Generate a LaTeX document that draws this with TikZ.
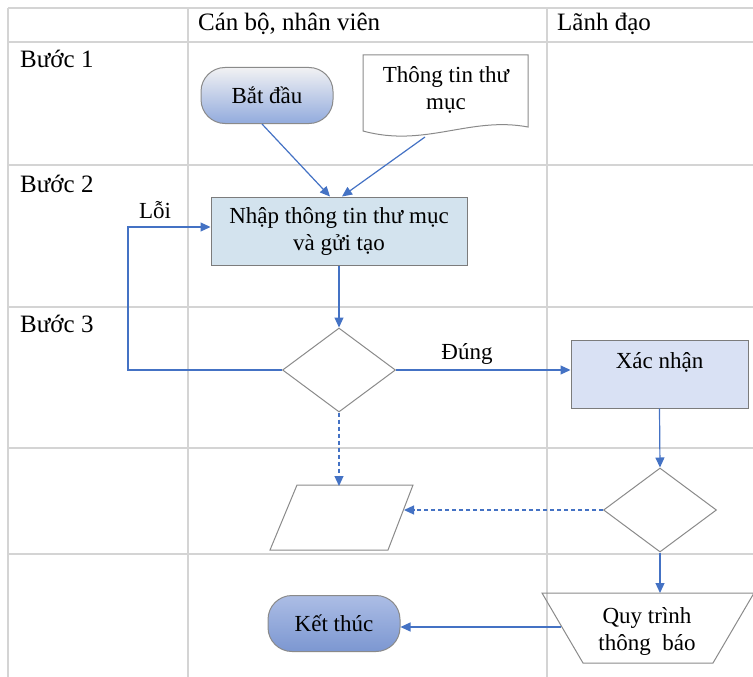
\documentclass[tikz,border=0pt]{standalone}
\usepackage{fontspec}
\setmainfont{Liberation Serif}
\usetikzlibrary{shapes.geometric,arrows.meta}
\definecolor{gridc}{HTML}{D4D4D4}
\definecolor{arr}{HTML}{4472C4}
\definecolor{shp}{HTML}{8A8A8A}
\definecolor{boxa}{HTML}{D3E3EE}
\definecolor{boxb}{HTML}{D9E1F4}
\begin{document}
\begin{tikzpicture}[x=1pt,y=-1pt,
  font=\fontsize{23}{27}\selectfont,
  gridline/.style={draw=gridc, line width=1.3pt},
  conn/.style={draw=arr, line width=1.2pt, -{Triangle[length=10pt,width=9pt]}},
  dconn/.style={conn, dash pattern=on 4pt off 3pt},
  term/.style={draw=shp, line width=1pt, rounded corners=24pt, minimum width=132pt, minimum height=56pt, inner sep=0pt},
  procbox/.style={draw=shp!90!black, line width=1pt, inner sep=0pt, align=center},
  decis/.style={diamond, draw=shp, line width=1pt, minimum width=113pt, minimum height=84pt, inner sep=0pt},
  shapeline/.style={draw=shp, line width=1pt},
  lbl/.style={inner sep=0pt, anchor=west, font=\fontsize{25}{29}\selectfont}
]
\useasboundingbox (0,0) rectangle (753,677);
% grid
\foreach \x in {8,188,547} \draw[gridline] (\x,8) -- (\x,677);
\foreach \y in {8,42,165,307,448,554} \draw[gridline] (8,\y) -- (753,\y);
% headers
\node[lbl] (h1) at (198,24) {Cán bộ, nhân viên};
\node[lbl] (h2) at (557,24) {Lãnh đạo};
\node[lbl] (b1) at (20,59) {Bước 1};
\node[lbl] (b2) at (20,184) {Bước 2};
\node[lbl] (b3) at (20,324) {Bước 3};
% start
\node[term, top color=blue!8!gray!10!white, bottom color={rgb,255:red,146;green,171;blue,221}] (start) at (267,95.5) {Bắt đầu};
% document
\draw[shapeline] (363,55) -- (528,55) -- (528,127) .. controls (470,116) and (425,148) .. (363,131) -- cycle;
\node[align=center, inner sep=0pt] (doc) at (446,90) {Thông tin thư\\mục};
\coordinate (docb) at (425,137);
% input box
\node[procbox, fill=boxa, minimum width=256pt, minimum height=68pt] (nhap) at (339,231) {Nhập thông tin thư mục\\và gửi tạo};
% decision 1
\node[decis] (d1) at (339,370) {};
% confirm box
\node[procbox, fill=boxb, minimum width=177pt, minimum height=68pt] (xn) at (659.5,374) {};
\node[inner sep=0pt] (xnt) at (659.5,362) {Xác nhận};
% decision 2
\node[decis] (d2) at (660,510) {};
% parallelogram
\draw[shapeline] (297,485) -- (413,485) -- (388,550) -- (270,550) -- cycle;
\coordinate (paratop) at (339,486);
\coordinate (pararight) at (404,510);
% trapezoid
\draw[shapeline] (542,593) -- (754,593) -- (713,663) -- (583,663) -- cycle;
\node[align=center, inner sep=0pt] (quy) at (647,631) {Quy trình\\thông\ \ báo};
\coordinate (quytop) at (660,593);
\coordinate (quyleft) at (561,627);
% end
\node[term, top color={rgb,255:red,172;green,189;blue,229}, bottom color={rgb,255:red,124;green,151;blue,209}] (kt) at (334,623.5) {Kết thúc};
% connectors
\draw[conn] ([xshift=-5pt]start.south) -- ([xshift=-9pt]nhap.north);
\draw[conn] (docb) -- ([xshift=3pt]nhap.north);
\draw[conn] (nhap.south) -- (d1.north);
\draw[conn] (d1.west) -- ++(-154,0) |- ([yshift=4pt]nhap.west);
\node[inner sep=0pt] (loi) at (155,210) {Lỗi};
\draw[conn] (d1.east) -- (d1.east -| xn.west);
\node[inner sep=0pt] (dung) at (467,354) {Đúng};
\draw[conn] (xn.south) -- (d2.north);
\draw[dconn] (d1.south) -- (paratop);
\draw[dconn] (d2.west) -- (pararight);
\draw[conn] (d2.south) -- (quytop);
\draw[conn] (quyleft) -- (quyleft -| kt.east);
\end{tikzpicture}
\end{document}
